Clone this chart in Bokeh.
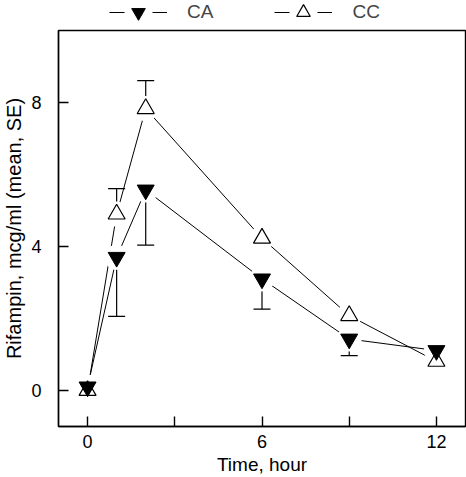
from bokeh.plotting import figure
from bokeh.layouts import column
from bokeh.models import Range1d, FixedTicker, Legend, LegendItem
from bokeh.embed import file_html
from bokeh.resources import INLINE

# ---- data ----
time_h = [0, 1, 2, 6, 9, 12]
ca_mean = [0.10, 3.70, 5.57, 3.10, 1.43, 1.11]
ca_se = [0.0, 1.64, 1.53, 0.84, 0.46, 0.0]
cc_mean = [0.00, 4.90, 7.83, 4.23, 2.08, 0.81]
cc_se = [0.0, 0.71, 0.78, 0.0, 0.0, 0.0]
series_labels = ["CA", "CC"]
x_ticks = [0, 3, 6, 9, 12]
x_tick_labels = {0: "0", 3: "", 6: "6", 9: "", 12: "12"}
y_ticks = [0, 4, 8]
x_title = "Time, hour"
y_title = "Rifampin, mcg/ml (mean, SE)"

FONT = "Liberation Sans"

p = figure(width=466, height=448, output_backend="svg", toolbar_location=None,
           x_range=Range1d(-1, 13), y_range=Range1d(-1, 10),
           min_border_left=58, min_border_right=1, min_border_top=1, min_border_bottom=49)
p.background_fill_color = "white"
p.border_fill_color = "white"
p.outline_line_color = "black"
p.outline_line_width = 1.4
p.xgrid.visible = False
p.ygrid.visible = False

for ax in (p.xaxis[0], p.yaxis[0]):
    ax.axis_line_color = "black"
    ax.axis_line_width = 1.4
    ax.major_tick_in = 10
    ax.major_tick_out = 0
    ax.major_tick_line_width = 1.4
    ax.minor_tick_line_color = None
    ax.major_label_text_font = FONT
    ax.major_label_text_font_size = "18px"
    ax.major_label_text_color = "black"
    ax.axis_label_text_font = FONT
    ax.axis_label_text_font_style = "normal"
    ax.axis_label_text_color = "black"

p.xaxis[0].ticker = FixedTicker(ticks=x_ticks)
p.xaxis[0].major_label_overrides = x_tick_labels
p.xaxis[0].axis_label = x_title
p.xaxis[0].axis_label_text_font_size = "19px"
p.xaxis[0].major_label_standoff = 8
p.xaxis[0].axis_label_standoff = 3

p.yaxis[0].ticker = FixedTicker(ticks=y_ticks)
p.yaxis[0].axis_label = y_title
p.yaxis[0].axis_label_text_font_size = "20px"
p.yaxis[0].major_label_standoff = 17
p.yaxis[0].axis_label_standoff = 3

# connecting lines
p.line(time_h, ca_mean, line_color="black", line_width=1)
p.line(time_h, cc_mean, line_color="black", line_width=1)

# error bars (CA downward, CC upward)
ca_idx = [i for i, s in enumerate(ca_se) if s > 0]
ca_x = [time_h[i] for i in ca_idx]
ca_y0 = [ca_mean[i] for i in ca_idx]
ca_y1 = [ca_mean[i] - ca_se[i] for i in ca_idx]
cc_idx = [i for i, s in enumerate(cc_se) if s > 0]
cc_x = [time_h[i] for i in cc_idx]
cc_y0 = [cc_mean[i] for i in cc_idx]
cc_y1 = [cc_mean[i] + cc_se[i] for i in cc_idx]
p.segment(ca_x, ca_y0, ca_x, ca_y1, line_color="black", line_width=1.2)
p.scatter(ca_x, ca_y1, marker="dash", size=17, line_color="black", line_width=1.2)
p.segment(cc_x, cc_y0, cc_x, cc_y1, line_color="black", line_width=1.2)
p.scatter(cc_x, cc_y1, marker="dash", size=17, line_color="black", line_width=1.2)

# white masks to leave gaps between lines and markers
p.scatter(time_h, ca_mean, marker="circle", size=25, fill_color="white", line_color=None)
p.scatter(time_h, cc_mean, marker="circle", size=25, fill_color="white", line_color=None)

# markers
p.scatter(time_h, cc_mean, marker="triangle", size=17, fill_color="white",
          line_color="black", line_width=1.2)
p.scatter(time_h, ca_mean, marker="inverted_triangle", size=17, fill_color="black",
          line_color="black", line_width=1)

# ---- legend strip above the plot (its own renderers lie outside its view) ----
lf = figure(width=466, height=29, output_backend="svg", toolbar_location=None,
            x_range=Range1d(100, 101), y_range=Range1d(100, 101), min_border=0)
lf.axis.visible = False
lf.xgrid.visible = False
lf.ygrid.visible = False
lf.outline_line_color = None

ca_leg = lf.line(time_h, ca_mean, line_color="black", line_width=1.2, line_dash="15 28 15")
ca_leg_mk = lf.scatter(time_h, ca_mean, marker="inverted_triangle", fill_color="black",
                       line_color="black", line_width=1)
cc_leg = lf.line(time_h, cc_mean, line_color="black", line_width=1.2, line_dash="15 28 15")
cc_leg_mk = lf.scatter(time_h, cc_mean, marker="triangle", fill_color="white",
                       line_color="black", line_width=1.2)

legend = Legend(items=[LegendItem(label=series_labels[0], renderers=[ca_leg, ca_leg_mk]),
                       LegendItem(label=series_labels[1], renderers=[cc_leg, cc_leg_mk])],
                orientation="horizontal", location=(51, 0),
                glyph_width=58, glyph_height=34, label_standoff=20, spacing=61,
                padding=0, margin=0, border_line_alpha=0, background_fill_alpha=0,
                label_text_font=FONT, label_text_font_size="19px", label_height=34)
lf.add_layout(legend, "center")

layout = column(lf, p, spacing=0)
open("out.html", "w").write(file_html(layout, INLINE))
